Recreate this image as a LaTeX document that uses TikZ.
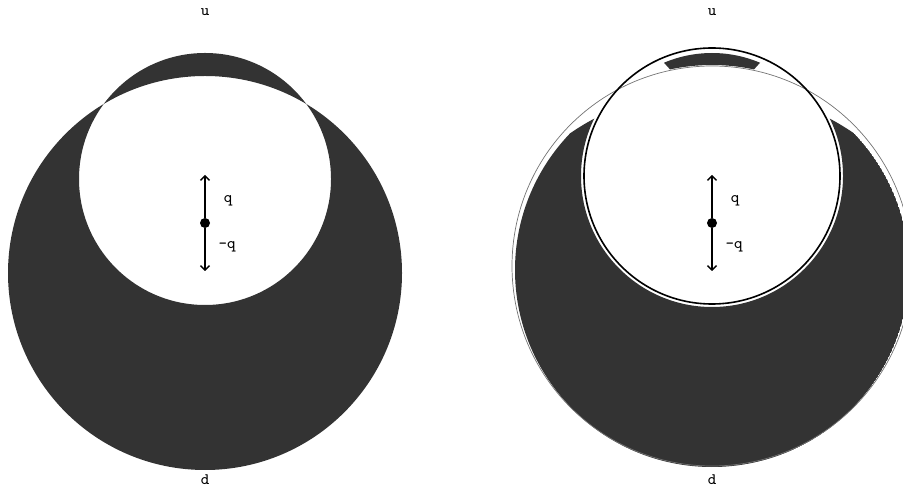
\documentclass[tikz,border=0pt]{standalone}
\usepackage{tikz}
\usetikzlibrary{arrows.meta}
\colorlet{DarkFill}{black!80}
\tikzset{
  darkfill/.style={fill=DarkFill},
  rimline/.style={draw=black, line width=0.8pt},
  thinrim/.style={draw=black!55, line width=0.35pt},
  vecarrow/.style={-{Straight Barb[length=2.2pt,width=4.6pt]}, line width=0.7pt},
  charge/.style={circle, fill=black, inner sep=0pt, minimum size=5pt},
  lab/.style={font=\ttfamily\fontsize{8}{9}\selectfont, inner sep=1pt},
}

\begin{document}
\begin{tikzpicture}[x=0.5pt, y=0.5pt]
  \useasboundingbox (0,0) rectangle (903,492);
  % left panel
  \coordinate (smallL) at (205,313);
  \coordinate (bigL) at (205,219);
  \fill[darkfill, even odd rule] (smallL) circle[radius=126] (bigL) circle[radius=197];
  % right panel
  \coordinate (smallR) at (712,316);
  \coordinate (bigR) at (712,226);
  \coordinate (coreR) at (712,222);
  \coordinate (cutR) at (712,152);
  \begin{scope}
    \clip (coreR) circle[radius=197];
    \clip (cutR) circle[radius=250.7];
    \fill[darkfill, even odd rule] (coreR) circle[radius=197] (smallR) circle[radius=131];
  \end{scope}
  \fill[darkfill] ([shift={(112.97:123)}]smallR) arc[start angle=112.97, end angle=67.03, radius=123]
    -- ([shift={(77.94:201)}]bigR) arc[start angle=77.94, end angle=102.06, radius=201] -- cycle;
  \draw[thinrim] (bigR) circle[radius=200];
  \draw[rimline] (smallR) circle[radius=128];
  % dipoles and labels
  \foreach \cx [count=\i] in {205,712} {
    \node[charge] (q\i) at (\cx,269) {};
    \coordinate (up\i) at (\cx,317);
    \coordinate (dn\i) at (\cx,221);
    \draw[vecarrow] (q\i) -- (up\i);
    \draw[vecarrow] (q\i) -- (dn\i);
    \node[lab] (qp\i) at (\cx+23,291) {q};
    \node[lab] (qm\i) at (\cx+22,245) {-q};
    \node[lab] (u\i) at (\cx,480) {u};
    \node[lab] (d\i) at (\cx,12) {d};
  }
\end{tikzpicture}
\end{document}
